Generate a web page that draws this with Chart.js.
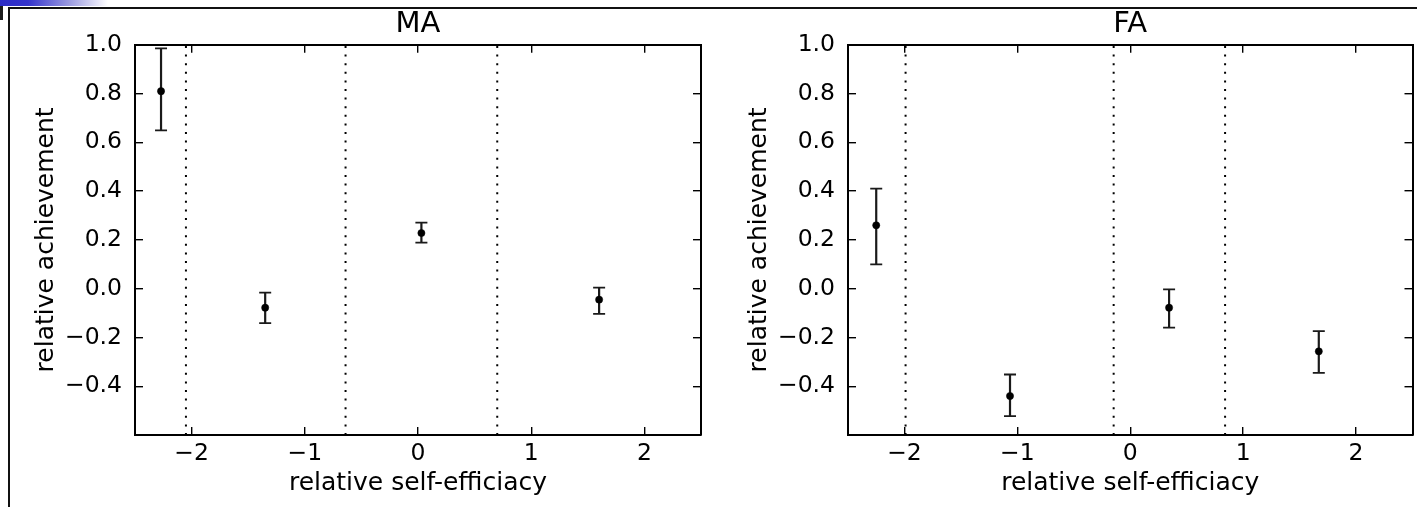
<!DOCTYPE html>
<html>
<head>
<meta charset="utf-8">
<script src="https://cdn.jsdelivr.net/npm/chart.js@4.4.1/dist/chart.umd.min.js"></script>
<style>
  html, body { margin: 0; padding: 0; background: #fff; }
  body { width: 1417px; height: 507px; position: relative; overflow: hidden; }
  .band { position: absolute; left: 0; top: 0; width: 110px; height: 6px;
          background: linear-gradient(to right, #2c2cc6 0px, #3434cc 28px, #9c9ce0 70px, #fff 108px); }
  .nub { position: absolute; left: 0; top: 6px; width: 3px; height: 14px; background: #1b1b1b; }
  .frame-top { position: absolute; left: 8px; top: 7px; right: 0; height: 2px; background: #111; }
  .frame-left { position: absolute; left: 8px; top: 7px; bottom: 0; width: 2px; background: #111; }
  .panel { position: absolute; top: 0; height: 507px; }
  #maWrap { left: 0; width: 710px; }
  #faWrap { left: 713px; width: 704px; }
</style>
</head>
<body>
<div class="band"></div>
<div class="nub"></div>
<div class="frame-top"></div>
<div class="frame-left"></div>
<div class="panel" id="maWrap"><canvas id="maChart"></canvas></div>
<div class="panel" id="faWrap"><canvas id="faChart"></canvas></div>
<script>
// axes
const xTicks = [-2, -1, 0, 1, 2];
const yTicks = [-0.4, -0.2, 0.0, 0.2, 0.4, 0.6, 0.8, 1.0];
const xRange = [-2.5, 2.5];
const yRange = [-0.6, 1.0];

// MA panel: bin means, error bar bounds, bin edges (dotted)
const maX = [-2.27, -1.35, 0.03, 1.60];
const maY = [0.81, -0.078, 0.228, -0.045];
const maLo = [0.649, -0.141, 0.189, -0.103];
const maHi = [0.985, -0.016, 0.271, 0.004];
const maSplits = [-2.05, -0.64, 0.70];

// FA panel
const faX = [-2.25, -1.065, 0.344, 1.67];
const faY = [0.26, -0.44, -0.078, -0.257];
const faLo = [0.10, -0.523, -0.16, -0.345];
const faHi = [0.41, -0.352, -0.003, -0.174];
const faSplits = [-1.99, -0.147, 0.84];

const family = '"DejaVu Sans", sans-serif';
const minus = v => (v < 0 ? '\u2212' : '');
const fmtX = v => minus(v) + Math.abs(v).toFixed(0);
const fmtY = v => minus(v) + Math.abs(v).toFixed(1);

// vertical error bars with caps, drawn under the markers
const errorBars = {
  id: 'errorBars',
  beforeDatasetsDraw(chart, args, opts) {
    const { ctx, scales: { x, y } } = chart;
    ctx.save();
    ctx.strokeStyle = '#1a1a1a';
    opts.xs.forEach((v, i) => {
      const px = x.getPixelForValue(v);
      const top = y.getPixelForValue(opts.hi[i]);
      const bot = y.getPixelForValue(opts.lo[i]);
      ctx.lineWidth = 2.2;
      ctx.beginPath();
      ctx.moveTo(px, top); ctx.lineTo(px, bot);
      ctx.stroke();
      ctx.lineWidth = 1.8;
      ctx.beginPath();
      ctx.moveTo(px - 6, top); ctx.lineTo(px + 6, top);
      ctx.moveTo(px - 6, bot); ctx.lineTo(px + 6, bot);
      ctx.stroke();
    });
    ctx.restore();
  }
};

const setTicks = list => s => { s.ticks = list.map(v => ({ value: v })); };
const gridIn = { drawOnChartArea: false, drawTicks: true, tickLength: -8, color: '#000', lineWidth: 1.4 };
const frame = { color: '#000', width: 2 };

function makeChart(id, title, xs, ys, lo, hi, splits, rightPad) {
  const ctx = document.getElementById(id);
  const datasets = [{
    data: xs.map((v, i) => ({ x: v, y: ys[i] })),
    backgroundColor: '#000',
    borderColor: '#000',
    pointRadius: 3.6,
    borderWidth: 0.5
  }];
  splits.forEach(s => datasets.push({
    data: [{ x: s, y: yRange[0] }, { x: s, y: yRange[1] }],
    showLine: true,
    borderColor: '#000',
    borderWidth: 2,
    borderDash: [2, 6.6],
    pointRadius: 0
  }));
  return new Chart(ctx, {
    type: 'scatter',
    data: { datasets },
    options: {
      responsive: true,
      maintainAspectRatio: false,
      animation: false,
      layout: { padding: { left: 0, right: rightPad, top: 0, bottom: 0 } },
      scales: {
        x: {
          type: 'linear', position: 'bottom', min: xRange[0], max: xRange[1],
          afterBuildTicks: setTicks(xTicks),
          afterFit: s => { s.height = 72; },
          grid: gridIn, border: frame,
          ticks: { color: '#000', font: { family, size: 23.5 }, padding: 13, maxRotation: 0, autoSkip: false, callback: fmtX },
          title: { display: true, text: 'relative self-efficiacy', color: '#000', font: { family, size: 25 }, padding: { top: 0, bottom: 9 } }
        },
        x2: {
          type: 'linear', position: 'top', min: xRange[0], max: xRange[1],
          afterBuildTicks: setTicks(xTicks),
          afterFit: s => { s.height = 0; },
          grid: gridIn, border: frame,
          ticks: { display: false }
        },
        y: {
          type: 'linear', position: 'left', min: yRange[0], max: yRange[1],
          afterBuildTicks: setTicks(yTicks),
          afterFit: s => { s.width = 135; },
          grid: gridIn, border: frame,
          ticks: { color: '#000', font: { family, size: 23.5 }, padding: 21, autoSkip: false, callback: fmtY },
          title: { display: true, text: 'relative achievement', color: '#000', font: { family, size: 25 }, padding: { top: 31, bottom: 0 } }
        },
        y2: {
          type: 'linear', position: 'right', min: yRange[0], max: yRange[1],
          afterBuildTicks: setTicks(yTicks),
          afterFit: s => { s.width = 0; },
          grid: gridIn, border: frame,
          ticks: { display: false }
        }
      },
      plugins: {
        legend: { display: false },
        tooltip: { enabled: false },
        title: { display: true, fullSize: false, text: title, color: '#000', font: { family, size: 29, weight: 'normal' }, padding: { top: 7, bottom: 3 } },
        errorBars: { xs, lo, hi }
      }
    },
    plugins: [errorBars]
  });
}

makeChart('maChart', 'MA', maX, maY, maLo, maHi, maSplits, 9);
makeChart('faChart', 'FA', faX, faY, faLo, faHi, faSplits, 3);
</script>
</body>
</html>
